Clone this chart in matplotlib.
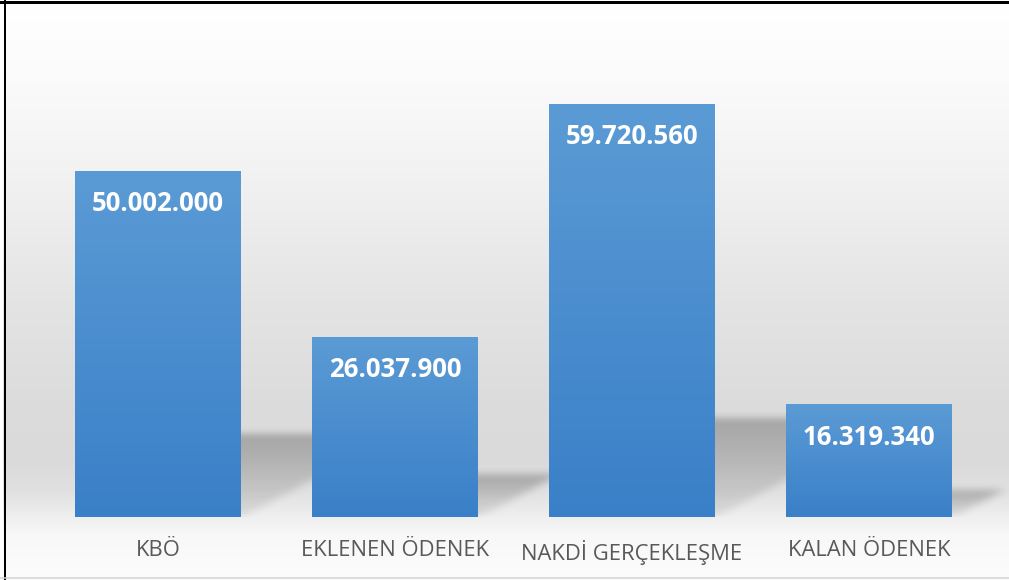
import numpy as np
import matplotlib
matplotlib.use('Agg')
import matplotlib.pyplot as plt
from matplotlib.lines import Line2D
from matplotlib.patches import Rectangle
from matplotlib.colors import LinearSegmentedColormap

categories = ['KBÖ', 'EKLENEN ÖDENEK', 'NAKDİ GERÇEKLEŞME', 'KALAN ÖDENEK']
values = [50002000, 26037900, 59720560, 16319340]
value_labels = ['50.002.000', '26.037.900', '59.720.560', '16.319.340']

W_PX, H_PX = 1009, 580
fig = plt.figure(figsize=(W_PX / 100, H_PX / 100), dpi=100)

# ---- background gradient (wall + floor) ----
bg = fig.add_axes([0, 0, 1, 1], zorder=0)
bg.set_axis_off()
stops_y = np.array([0, 60, 120, 200, 300, 400, 460, 490, 515, 535, 580])
stops_g = np.array([255, 252, 247, 239, 228, 220, 218, 224, 238, 248, 252])
g = np.interp(np.arange(H_PX), stops_y, stops_g) / 255
col = np.repeat(g[:, None], 2, axis=1)
bg.imshow(np.dstack([col, col, col]), aspect='auto', extent=(0, 1, 0, 1), origin='upper')
bg.set_xlim(0, 1)
bg.set_ylim(0, 1)

# ---- main axes ----
AX_L, AX_B, AX_W, AX_H = 39.5, 63, 948, 484.4
YMAX = 70e6
ax = fig.add_axes([AX_L / W_PX, AX_B / H_PX, AX_W / W_PX, AX_H / H_PX], zorder=1)
ax.patch.set_alpha(0)
x = np.arange(len(categories))
bars = ax.bar(x, values, width=0.7, color='none', edgecolor='none', zorder=3)

cmap = LinearSegmentedColormap.from_list('b', ['#3A80C8', '#5B9BD5'])
grad = np.linspace(0, 1, 256)[:, None]
for b in bars:
    x0, w, h = b.get_x(), b.get_width(), b.get_height()
    im = ax.imshow(grad, cmap=cmap, aspect='auto', extent=(x0, x0 + w, 0, h),
                   origin='lower', zorder=3, interpolation='bilinear')
    im.set_clip_path(b)

# ---- perspective shadows behind bars ----
px_per_x = AX_W / 4.0
px_per_y = AX_H / YMAX
extra = 70
nx, ny = int(AX_W + extra), int(AX_H)
PX, PY = np.meshgrid(np.arange(nx) + 0.5, np.arange(ny) + 0.5)
alpha = np.zeros((ny, nx))
for b in bars:
    sx0 = (b.get_x() + 0.5) * px_per_x + 20
    sx1 = (b.get_x() + b.get_width() + 0.5) * px_per_x
    hs = 0.24 * b.get_height() * px_per_y
    dx = 1.9 * hs
    t = PY / hs
    inside = (PY <= hs) & (PX >= sx0) & (PX <= sx1 + t * dx)
    alpha = np.maximum(alpha, np.where(inside, 0.08 + 0.17 * t ** 1.3, 0.0))


def box_blur(a, r, axis):
    k = np.ones(2 * r + 1) / (2 * r + 1)
    return np.apply_along_axis(lambda m: np.convolve(m, k, mode='same'), axis, a)


for _ in range(3):
    alpha = box_blur(alpha, 3, 0)
    alpha = box_blur(alpha, 4, 1)
rgba = np.zeros((ny, nx, 4))
rgba[..., 3] = alpha
sh = ax.imshow(rgba, origin='lower', aspect='auto',
               extent=(-0.5, -0.5 + nx / px_per_x, 0, ny / px_per_y),
               zorder=2, interpolation='bilinear')
sh.set_clip_on(False)

# ---- value labels ----
for b, lab in zip(bars, value_labels):
    ax.annotate(lab, (b.get_x() + b.get_width() / 2, b.get_height()),
                xytext=(0, -33), textcoords='offset pixels', ha='center', va='center',
                color='white', fontsize=18.5, fontweight='bold', family='Open Sans', zorder=5)

ax.set_xlim(-0.5, 3.5)
ax.set_ylim(0, YMAX)
ax.set_xticks(x, categories)
ax.tick_params(axis='x', length=0, pad=16.5, labelsize=15.8, labelcolor='#595959')
for lbl in ax.get_xticklabels():
    lbl.set_family('Open Sans')
ax.set_yticks([])
for s in ax.spines.values():
    s.set_visible(False)

# ---- frame ----
fig.add_artist(Rectangle((0, 0), 3 / W_PX, 1, transform=fig.transFigure,
                         facecolor='white', edgecolor='none', zorder=10))
fig.add_artist(Line2D([0, 1], [1 - 1.5 / H_PX] * 2, transform=fig.transFigure,
                      color='black', lw=3 * 0.72, zorder=11))
fig.add_artist(Line2D([4.5 / W_PX] * 2, [0, 1], transform=fig.transFigure,
                      color='black', lw=2 * 0.72, zorder=11))
fig.add_artist(Line2D([0, 1], [2 / H_PX] * 2, transform=fig.transFigure,
                      color='#d4d4d4', lw=1.5 * 0.72, zorder=11))

fig.savefig('out.png', dpi=100)
